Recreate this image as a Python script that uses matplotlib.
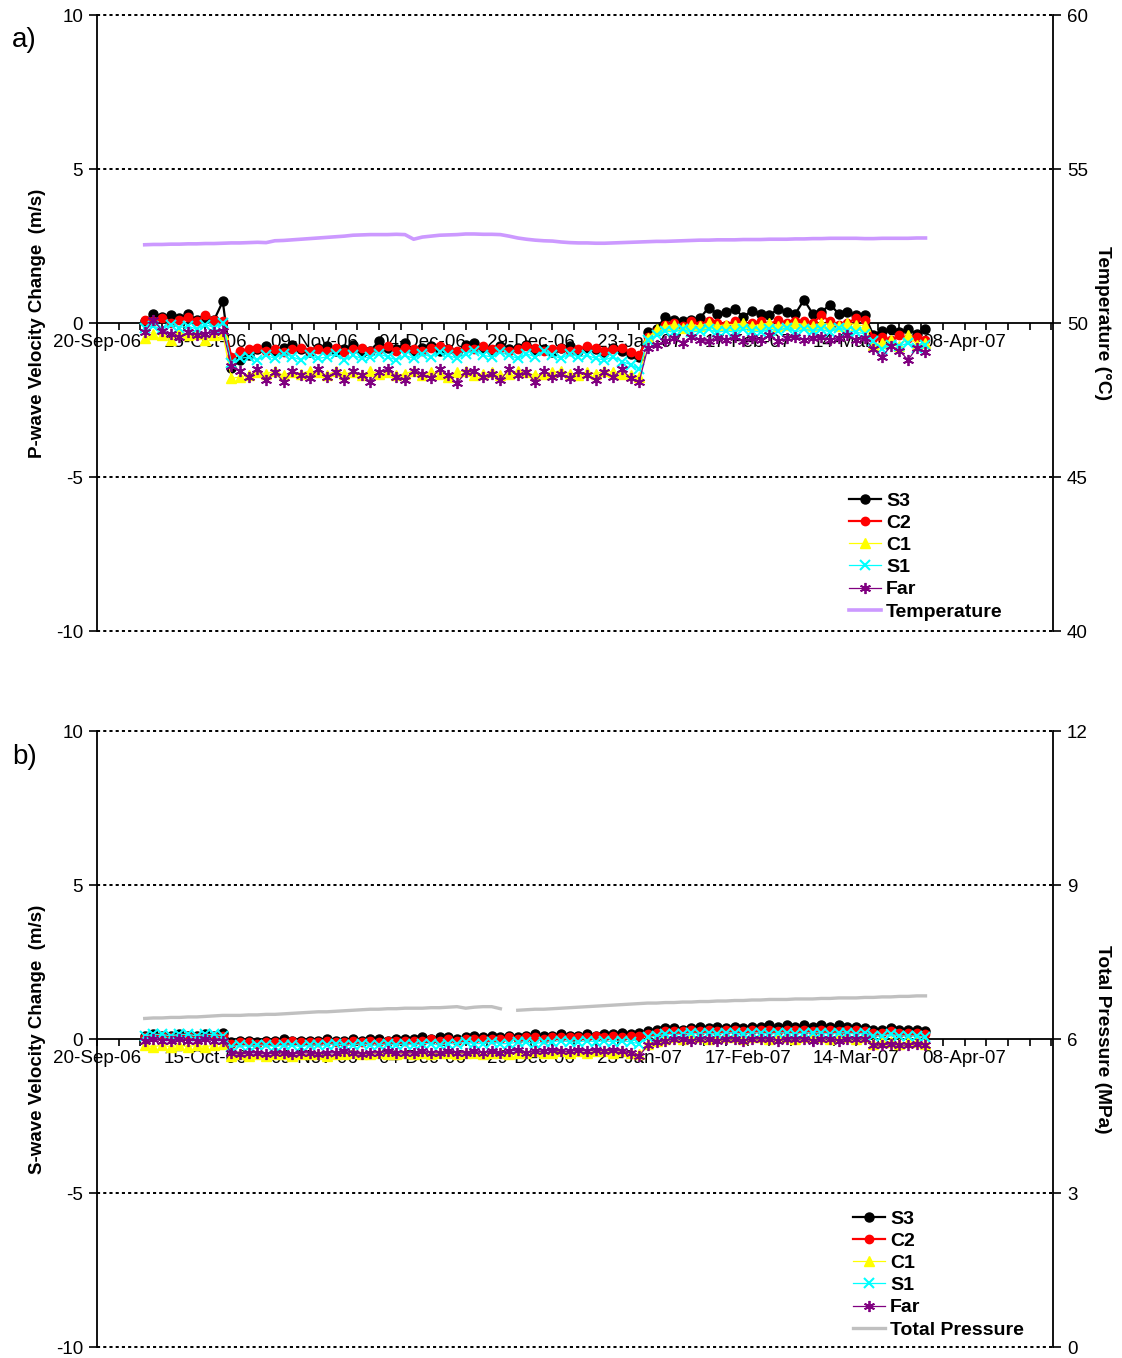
import matplotlib
matplotlib.use("Agg")
import matplotlib.pyplot as plt
import matplotlib.dates as mdates
import numpy as np
import pandas as pd

plt.rcParams['font.family'] = ['Liberation Sans', 'DejaVu Sans']

# ---------------- data ----------------
dates = pd.date_range('2006-10-01', periods=91, freq='2D')

# Panel a: P-wave velocity change (m/s)
p_s3 = [0.05, 0.30, 0.20, 0.25, 0.15, 0.30, 0.10, 0.20, 0.10, 0.70,
        -1.45, -1.20, -1.05, -0.85, -0.75, -0.90, -0.80, -0.70, -0.85, -0.95,
        -0.80, -0.75, -0.90, -0.85, -0.70, -0.95, -0.90, -0.60, -0.80, -0.85,
        -0.65, -0.90, -0.80, -0.75, -0.90, -0.85, -0.95, -0.70, -0.65, -0.80,
        -0.90, -0.75, -0.85, -0.80, -0.70, -0.90, -0.85, -0.95, -0.80, -0.75,
        -0.90, -0.80, -0.85, -0.95, -0.80, -0.90, -1.00, -1.10,
        -0.30, -0.20, 0.20, 0.10, 0.05, 0.10, 0.15, 0.50, 0.30, 0.35,
        0.45, 0.20, 0.40, 0.30, 0.25, 0.45, 0.35, 0.30, 0.75, 0.30,
        0.35, 0.60, 0.30, 0.35, 0.25, 0.25,
        -0.40, -0.25, -0.20, -0.30, -0.20, -0.35, -0.20]
p_c2 = [0.10, 0.05, 0.15, 0.00, 0.10, 0.20, 0.05, 0.25, 0.10, 0.05,
        -1.10, -0.90, -0.85, -0.80, -0.90, -0.85, -0.95, -0.85, -0.80, -0.90,
        -0.85, -0.90, -0.80, -0.95, -0.85, -0.80, -0.90, -0.85, -0.75, -0.90,
        -0.80, -0.85, -0.90, -0.80, -0.75, -0.85, -0.90, -0.80, -0.85, -0.75,
        -0.85, -0.80, -0.90, -0.85, -0.75, -0.80, -0.90, -0.85, -0.80, -0.90,
        -0.85, -0.75, -0.80, -0.90, -0.85, -0.80, -0.95, -1.05,
        -0.45, -0.25, -0.05, 0.00, -0.10, 0.05, -0.05, 0.05, 0.00, -0.05,
        0.05, -0.05, 0.00, 0.05, -0.05, 0.10, 0.00, 0.05, 0.05, 0.00,
        0.25, 0.05, -0.05, 0.00, 0.15, 0.10,
        -0.50, -0.45, -0.55, -0.40, -0.50, -0.45, -0.55]
p_c1 = [-0.50, -0.35, -0.40, -0.55, -0.30, -0.40, -0.35, -0.55, -0.40, -0.35,
        -1.80, -1.75, -1.70, -1.60, -1.65, -1.55, -1.70, -1.60, -1.65, -1.55,
        -1.60, -1.70, -1.55, -1.65, -1.60, -1.70, -1.55, -1.65, -1.60, -1.70,
        -1.65, -1.55, -1.70, -1.60, -1.65, -1.75, -1.60, -1.55, -1.70, -1.65,
        -1.60, -1.70, -1.65, -1.55, -1.60, -1.70, -1.65, -1.60, -1.55, -1.65,
        -1.70, -1.60, -1.65, -1.55, -1.60, -1.65, -1.70, -1.75,
        -0.50, -0.20, -0.10, -0.05, -0.15, -0.05, -0.10, 0.00, -0.10, -0.05,
        -0.05, 0.00, -0.10, -0.05, 0.00, -0.10, -0.05, 0.00, -0.05, -0.10,
        0.00, -0.05, -0.10, 0.00, -0.05, -0.10,
        -0.70, -0.65, -0.55, -0.75, -0.40, -0.70, -0.65]
p_s1 = [-0.15, -0.10, -0.20, -0.05, -0.15, -0.10, -0.20, -0.05, -0.15, 0.00,
        -1.30, -1.15, -1.10, -1.20, -1.05, -1.15, -1.00, -1.10, -1.20, -1.05,
        -1.15, -1.10, -1.00, -1.20, -1.05, -1.15, -1.10, -1.00, -1.10, -1.20,
        -1.05, -1.15, -1.00, -1.10, -0.95, -1.05, -1.15, -1.00, -0.90, -1.05,
        -1.10, -0.95, -1.05, -1.15, -1.00, -1.10, -0.90, -1.05, -1.15, -1.00,
        -1.10, -1.05, -1.15, -1.20, -1.10, -1.25, -1.35, -1.50,
        -0.55, -0.40, -0.25, -0.30, -0.20, -0.30, -0.25, -0.20, -0.30, -0.25,
        -0.30, -0.20, -0.25, -0.30, -0.20, -0.25, -0.15, -0.30, -0.20, -0.25,
        -0.20, -0.30, -0.15, -0.25, -0.30, -0.35,
        -0.60, -0.85, -0.70, -0.75, -0.65, -0.80, -0.70]
p_far = [-0.30, 0.10, -0.25, -0.35, -0.45, -0.30, -0.40, -0.35, -0.30, -0.25,
         -1.40, -1.55, -1.75, -1.50, -1.85, -1.60, -1.90, -1.55, -1.70, -1.80,
         -1.50, -1.75, -1.60, -1.85, -1.55, -1.70, -1.90, -1.60, -1.50, -1.75,
         -1.85, -1.55, -1.65, -1.80, -1.50, -1.70, -1.95, -1.60, -1.55, -1.75,
         -1.65, -1.85, -1.50, -1.70, -1.60, -1.90, -1.55, -1.75, -1.65, -1.80,
         -1.55, -1.70, -1.85, -1.60, -1.75, -1.50, -1.80, -1.90,
         -0.80, -0.70, -0.60, -0.50, -0.65, -0.45, -0.55, -0.60, -0.50, -0.55,
         -0.45, -0.60, -0.50, -0.55, -0.40, -0.60, -0.50, -0.45, -0.55, -0.50,
         -0.45, -0.55, -0.50, -0.40, -0.55, -0.50,
         -0.85, -1.10, -0.75, -0.90, -1.20, -0.80, -0.95]
temperature = [52.54, 52.55, 52.55, 52.56, 52.56, 52.57, 52.57, 52.58, 52.58, 52.59,
               52.60, 52.60, 52.61, 52.62, 52.61, 52.67, 52.68, 52.70, 52.72, 52.74,
               52.76, 52.78, 52.80, 52.82, 52.85, 52.86, 52.87, 52.87, 52.87, 52.88,
               52.87, 52.72, 52.79, 52.82, 52.85, 52.86, 52.87, 52.89, 52.89, 52.88,
               52.88, 52.87, 52.82, 52.76, 52.72, 52.69, 52.67, 52.66, 52.63, 52.61,
               52.60, 52.60, 52.59, 52.59, 52.60, 52.61, 52.62, 52.63, 52.64, 52.65,
               52.65, 52.66, 52.67, 52.68, 52.69, 52.69, 52.70, 52.70, 52.70, 52.71,
               52.71, 52.71, 52.72, 52.72, 52.72, 52.73, 52.73, 52.74, 52.74, 52.75,
               52.75, 52.75, 52.75, 52.74, 52.74, 52.75, 52.75, 52.75, 52.75, 52.76,
               52.76]

# Panel b: S-wave velocity change (m/s)
s_s3 = [0.10, 0.15, 0.10, 0.10, 0.15, 0.10, 0.10, 0.15, 0.10, 0.20,
        -0.10, -0.05, -0.05, -0.10, -0.05, -0.05, 0.00, -0.05, -0.05, -0.05,
        -0.05, 0.00, -0.05, -0.05, 0.00, -0.05, 0.00, 0.00, -0.05, 0.00,
        0.00, 0.00, 0.05, 0.00, 0.05, 0.05, 0.00, 0.05, 0.10, 0.05,
        0.10, 0.05, 0.10, 0.05, 0.10, 0.15, 0.10, 0.10, 0.15, 0.10,
        0.10, 0.15, 0.10, 0.15, 0.15, 0.20, 0.15, 0.20,
        0.25, 0.30, 0.35, 0.35, 0.30, 0.35, 0.40, 0.35, 0.40, 0.35,
        0.40, 0.35, 0.40, 0.40, 0.45, 0.40, 0.45, 0.40, 0.45, 0.40,
        0.45, 0.40, 0.45, 0.40, 0.40, 0.35,
        0.30, 0.30, 0.35, 0.30, 0.30, 0.30, 0.25]
s_c2 = [0.05, 0.05, 0.10, 0.05, 0.05, 0.10, 0.05, 0.05, 0.10, 0.10,
        -0.15, -0.10, -0.10, -0.15, -0.10, -0.10, -0.10, -0.05, -0.10, -0.10,
        -0.10, -0.05, -0.10, -0.10, -0.05, -0.10, -0.05, -0.10, -0.05, -0.05,
        -0.05, -0.05, -0.05, 0.00, -0.05, 0.00, -0.05, 0.00, 0.00, 0.00,
        0.00, 0.00, 0.05, 0.00, 0.05, 0.05, 0.00, 0.05, 0.05, 0.05,
        0.05, 0.05, 0.10, 0.05, 0.10, 0.05, 0.10, 0.10,
        0.15, 0.20, 0.25, 0.25, 0.25, 0.30, 0.25, 0.30, 0.25, 0.30,
        0.30, 0.25, 0.30, 0.30, 0.30, 0.25, 0.30, 0.30, 0.30, 0.25,
        0.30, 0.30, 0.25, 0.30, 0.30, 0.25,
        0.20, 0.20, 0.25, 0.20, 0.20, 0.20, 0.15]
s_c1 = [-0.20, -0.25, -0.20, -0.25, -0.20, -0.25, -0.20, -0.25, -0.20, -0.15,
        -0.55, -0.50, -0.55, -0.50, -0.55, -0.50, -0.50, -0.55, -0.50, -0.50,
        -0.50, -0.55, -0.50, -0.50, -0.45, -0.50, -0.50, -0.45, -0.50, -0.50,
        -0.45, -0.50, -0.45, -0.50, -0.45, -0.45, -0.50, -0.45, -0.45, -0.50,
        -0.45, -0.45, -0.50, -0.45, -0.45, -0.40, -0.45, -0.45, -0.40, -0.45,
        -0.40, -0.45, -0.40, -0.40, -0.45, -0.40, -0.45, -0.50,
        -0.15, -0.05, 0.00, 0.05, 0.00, 0.05, 0.05, 0.00, 0.05, 0.05,
        0.05, 0.00, 0.05, 0.05, 0.00, 0.05, 0.05, 0.00, 0.05, 0.05,
        0.05, 0.00, 0.05, 0.05, 0.00, 0.05,
        -0.15, -0.10, -0.10, -0.15, -0.10, -0.10, -0.15]
s_s1 = [0.10, 0.15, 0.15, 0.10, 0.15, 0.15, 0.10, 0.15, 0.15, 0.10,
        -0.25, -0.20, -0.25, -0.20, -0.20, -0.25, -0.20, -0.20, -0.25, -0.20,
        -0.20, -0.20, -0.15, -0.20, -0.20, -0.15, -0.20, -0.20, -0.15, -0.20,
        -0.15, -0.20, -0.15, -0.15, -0.20, -0.15, -0.15, -0.10, -0.15, -0.15,
        -0.10, -0.15, -0.15, -0.10, -0.10, -0.15, -0.10, -0.10, -0.05, -0.10,
        -0.10, -0.05, -0.10, -0.05, -0.10, -0.05, -0.10, -0.15,
        0.05, 0.10, 0.15, 0.15, 0.15, 0.20, 0.15, 0.20, 0.15, 0.20,
        0.20, 0.15, 0.20, 0.20, 0.15, 0.20, 0.20, 0.15, 0.20, 0.20,
        0.20, 0.15, 0.20, 0.20, 0.15, 0.20,
        0.10, 0.10, 0.15, 0.10, 0.10, 0.10, 0.05]
s_far = [-0.05, 0.00, -0.05, -0.05, 0.00, -0.05, -0.05, 0.00, -0.05, -0.05,
         -0.45, -0.50, -0.45, -0.45, -0.50, -0.45, -0.45, -0.50, -0.45, -0.45,
         -0.50, -0.45, -0.45, -0.40, -0.45, -0.50, -0.45, -0.45, -0.40, -0.45,
         -0.45, -0.45, -0.40, -0.45, -0.45, -0.40, -0.45, -0.45, -0.40, -0.45,
         -0.40, -0.45, -0.40, -0.35, -0.45, -0.40, -0.40, -0.35, -0.40, -0.40,
         -0.35, -0.40, -0.35, -0.40, -0.35, -0.40, -0.45, -0.55,
         -0.20, -0.10, -0.05, 0.00, 0.00, -0.05, 0.00, 0.00, -0.05, 0.00,
         0.00, -0.05, 0.00, 0.00, 0.00, -0.05, 0.00, 0.00, 0.00, -0.05,
         0.00, 0.00, -0.05, 0.00, 0.00, 0.00,
         -0.20, -0.20, -0.15, -0.20, -0.20, -0.15, -0.20]
pressure = [6.40, 6.41, 6.41, 6.42, 6.42, 6.43, 6.43, 6.44, 6.45, 6.46,
            6.46, 6.46, 6.47, 6.47, 6.48, 6.48, 6.49, 6.50, 6.51, 6.52,
            6.53, 6.53, 6.54, 6.55, 6.56, 6.57, 6.58, 6.58, 6.59, 6.59,
            6.60, 6.60, 6.60, 6.61, 6.61, 6.62, 6.63, 6.60, 6.62, 6.63,
            6.63, 6.59, np.nan, 6.56, 6.57, 6.58, 6.58, 6.59, 6.60, 6.61,
            6.62, 6.63, 6.64, 6.65, 6.66, 6.67, 6.68, 6.69, 6.70, 6.70,
            6.71, 6.71, 6.72, 6.72, 6.73, 6.73, 6.74, 6.74, 6.75, 6.75,
            6.76, 6.76, 6.77, 6.77, 6.77, 6.78, 6.78, 6.78, 6.79, 6.79,
            6.80, 6.80, 6.80, 6.81, 6.81, 6.82, 6.82, 6.83, 6.83, 6.84,
            6.84]

series_names = ['S3', 'C2', 'C1', 'S1', 'Far']
x_tick_labels_fmt = '%d-%b-%y'
colors = ['#000000', '#FF0000', '#FFFF00', '#00FFFF', '#800080']
markers = ['o', 'o', '^', 'x', (6, 2, 0)]
msizes = [6.5, 6, 6.5, 6.5, 8]
lwidths = [1.6, 1.6, 0.9, 0.9, 0.9]
mews = [1, 1, 1, 1.5, 1.3]

for arr in [p_s3, p_c2, p_c1, p_s1, p_far, temperature, s_s3, s_c2, s_c1, s_s1, s_far, pressure]:
    assert len(arr) == 91, len(arr)

# ---------------- figure ----------------
W, H = 1122, 1358
fig = plt.figure(figsize=(W / 100, H / 100), dpi=100)

x0 = mdates.date2num(pd.Timestamp('2006-09-20'))
xlim = (x0, x0 + 220.4)
FS = 13.5


def make_panel(rect, vals, rlim, rticks, lylabel, rylabel, rdata, rname, rcolor, rlw,
               tag, leg_xy):
    ax = fig.add_axes(rect)
    ax.set_xlim(*xlim)
    ax.set_ylim(-10, 10)
    ax.set_yticks([-10, -5, 0, 5, 10])
    ax.set_yticklabels(['-10', '-5', '0', '5', '10'])
    for y in [-10, -5, 5, 10]:
        ax.axhline(y, color='black', lw=1.4, ls=(0, (1.6, 1.6)), clip_on=False, zorder=0.5)
    ax.spines['top'].set_visible(False)
    ax.spines['right'].set_visible(False)
    ax.spines['bottom'].set_position(('data', 0))
    ax.spines['bottom'].set_linewidth(1.3)
    ax.spines['left'].set_linewidth(1.3)
    major = [x0 + 25 * i for i in range(9)]
    minor = [x0 + 5 * i for i in range(45)]
    ax.set_xticks(major)
    ax.set_xticks(minor, minor=True)
    ax.xaxis.set_major_formatter(mdates.DateFormatter(x_tick_labels_fmt))
    ax.tick_params(axis='x', which='both', direction='out', length=5, width=1.2,
                   labelsize=FS, pad=3)
    ax.tick_params(axis='y', direction='out', length=6, width=1.2, labelsize=FS, pad=4)

    handles = []
    for v, name, c, m, ms, lw, mew in zip(vals, series_names, colors, markers, msizes, lwidths, mews):
        h, = ax.plot(dates, v, color=c, marker=m, markersize=ms, lw=lw,
                     markeredgewidth=mew, markeredgecolor=c, markerfacecolor=c,
                     label=name, zorder=3)
        handles.append(h)
    ax.set_xlim(*xlim)

    ax.set_ylabel(lylabel, fontsize=13.5, fontweight='bold')
    ax.yaxis.set_label_coords(-0.0535, 0.5)

    ax2 = ax.twinx()
    ax2.set_ylim(*rlim)
    ax2.set_yticks(rticks)
    for s in ['top', 'bottom', 'left']:
        ax2.spines[s].set_visible(False)
    ax2.spines['right'].set_linewidth(1.3)
    ax2.tick_params(axis='y', direction='out', length=6, width=1.2, labelsize=FS, pad=4)
    h2, = ax2.plot(dates, rdata, color=rcolor, lw=rlw, label=rname, zorder=3)
    handles.append(h2)
    ax2.set_xlim(*xlim)
    ax2.set_ylabel(rylabel, fontsize=13.8, fontweight='bold', rotation=-90)
    ax2.yaxis.set_label_coords(1.061, 0.5)

    fig.text(12 / W, tag[1], tag[0], fontsize=20, ha='left', va='center')

    fig.legend(handles=handles, loc='upper left',
               bbox_to_anchor=(leg_xy[0] / W, 1 - leg_xy[1] / H),
               frameon=False, prop={'weight': 'bold', 'size': 14},
               handlelength=1.65, handletextpad=0.25, labelspacing=0.235,
               borderpad=0, borderaxespad=0)
    return ax, ax2


L = 97 / W
Wd = (1053 - 97) / W
rect_a = [L, 1 - 631 / H, Wd, 616 / H]
rect_b = [L, 1 - 1347 / H, Wd, 616 / H]

make_panel(rect_a, [p_s3, p_c2, p_c1, p_s1, p_far], (40, 60), [40, 45, 50, 55, 60],
           'P-wave Velocity Change  (m/s)', 'Temperature (°C)', temperature,
           'Temperature', '#CC99FF', 2.6, ('a)', 1 - 40 / H), (849, 492))
make_panel(rect_b, [s_s3, s_c2, s_c1, s_s1, s_far], (0, 12), [0, 3, 6, 9, 12],
           'S-wave Velocity Change  (m/s)', 'Total Pressure (MPa)', pressure,
           'Total Pressure', '#C0C0C0', 2.4, ('b)', 1 - 757 / H), (853, 1210))

fig.savefig('out.png', dpi=100)
